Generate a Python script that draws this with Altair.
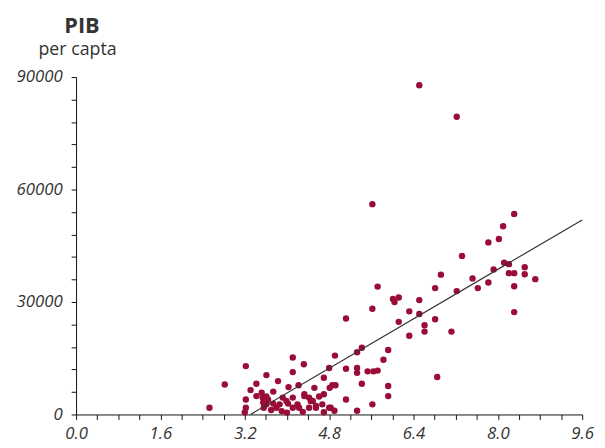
import altair as alt
import pandas as pd

# ---- data ----
pts_x = [
    6.51, 7.22, 5.62, 8.31, 8.10, 8.02, 7.82, 7.32,
    6.92, 6.81, 5.72, 6.01, 6.12, 6.51, 6.32, 6.51, 6.12, 6.61, 6.61, 6.81,
    7.12, 6.32, 7.22, 7.52, 7.62, 7.82, 7.92, 8.12, 8.21, 8.21, 8.31, 8.31,
    8.51, 8.51, 8.71, 8.31, 6.04, 5.62, 5.12, 6.85,
    5.92, 5.83, 5.42, 5.33, 5.33, 5.33, 5.53, 5.64, 5.72, 5.42, 5.12, 4.91,
    4.80, 4.70, 4.86, 4.92, 4.81, 4.52, 4.32, 4.11, 4.11, 4.22, 4.03, 3.83,
    3.61, 3.42, 3.22, 2.82, 3.31, 3.74, 3.52, 4.33, 4.70, 5.92, 5.92,
    2.53, 3.22, 3.22, 3.20, 3.54, 3.61, 3.61, 3.56, 3.74, 3.80, 3.92, 4.11,
    4.02, 4.11, 4.20, 4.42, 4.49, 4.61, 4.67, 4.80, 4.42, 4.55, 5.12, 5.33,
    5.62, 3.42, 3.55, 3.64, 3.86, 3.99, 4.23, 4.33, 4.45, 4.55, 4.83, 4.90,
    3.90, 4.30, 4.70, 4.00, 3.70,
]
pts_y = [
    87800, 79400, 56100, 53500, 50200, 46800, 45900, 42300,
    37300, 33700, 34100, 30800, 31200, 30500, 27500, 26800, 24700, 23800, 22100, 25400,
    22100, 21000, 32900, 36300, 33700, 35200, 38700, 40500, 40100, 37700, 37700, 34200,
    39300, 37400, 36100, 27300, 30000, 28200, 25600, 10000,
    17200, 14600, 17800, 16600, 12400, 11100, 11500, 11500, 11700, 8200, 12200, 15700,
    12400, 9800, 7800, 7800, 7100, 7100, 13400, 15200, 11300, 7800, 7300, 8900,
    10500, 8200, 12900, 8000, 6500, 6100, 5800, 5400, 5400, 7600, 4900,
    1800, 4000, 1800, 600, 4500, 4800, 2700, 1800, 2900, 1800, 4500, 4500,
    2900, 1800, 2700, 4500, 3600, 4800, 2700, 1800, 1800, 1800, 4000, 1000,
    2700, 4900, 3200, 4000, 2700, 3600, 1800, 4900, 3600, 2300, 1800, 1000,
    900, 700, 600, 500, 1200,
]

# fitted line (as drawn in the reference)
fit_intercept = -27300
fit_slope = 8250
fit_x = [3.31, 9.6]

x_ticks = [round(i * 0.4, 1) for i in range(25)]
y_ticks = [i * 6000 for i in range(16)]

title_main = "PIB"
title_sub = "per capta"

pts = pd.DataFrame({"x": pts_x, "y": pts_y})
line_df = pd.DataFrame({"x": fit_x})

FONT = "Open Sans"

xscale = alt.Scale(domain=[0, 9.6], nice=False, zero=False)
yscale = alt.Scale(domain=[0, 90000], nice=False)

xaxis = alt.Axis(
    values=x_ticks,
    labelExpr="abs(datum.value/1.6 - round(datum.value/1.6)) < 0.01 ? format(datum.value, '.1f') : ''",
    title=None, grid=False, tickSize=5, labelPadding=6,
    domainColor="#111", tickColor="#111", labelFont=FONT, labelFontStyle="italic",
    labelFontSize=17, labelColor="#333", labelFlush=False, labelOverlap=False,
)
yaxis = alt.Axis(
    values=y_ticks,
    labelExpr="datum.value % 30000 == 0 ? format(datum.value, 'd') : ''",
    title=None, grid=False, tickSize=5, labelPadding=9,
    domainColor="#111", tickColor="#111", labelFont=FONT, labelFontStyle="italic",
    labelFontSize=17, labelColor="#333", labelFlush=False, labelOverlap=False,
    labelBound=False,
)

points = alt.Chart(pts).mark_circle(size=42, color="#990d38", opacity=1).encode(
    x=alt.X("x:Q", scale=xscale, axis=xaxis),
    y=alt.Y("y:Q", scale=yscale, axis=yaxis),
)

line = alt.Chart(line_df).transform_calculate(
    yfit=f"{fit_intercept} + {fit_slope} * datum.x"
).mark_line(color="#333", strokeWidth=1.2).encode(
    x=alt.X("x:Q", scale=xscale, axis=xaxis),
    y=alt.Y("yfit:Q", scale=yscale, axis=yaxis),
)

t1 = alt.Chart(pd.DataFrame({"t": [title_main]})).mark_text(
    font=FONT, fontSize=22, fontWeight="bold", color="#333", align="center", baseline="alphabetic"
).encode(text="t:N", x=alt.value(6), y=alt.value(-45))

t2 = alt.Chart(pd.DataFrame({"t": [title_sub]})).mark_text(
    font=FONT, fontSize=18, color="#333", align="center", baseline="alphabetic"
).encode(text="t:N", x=alt.value(1.5), y=alt.value(-22))

chart = alt.layer(points, line, t1, t2).properties(
    width=513, height=342,
    autosize=alt.AutoSizeParams(type="none"),
    padding={"left": 69, "top": 67, "right": 15, "bottom": 31},
).configure(background="white").configure_view(strokeWidth=0)

chart.save("out.html", embed_options={"renderer": "svg", "actions": False})
